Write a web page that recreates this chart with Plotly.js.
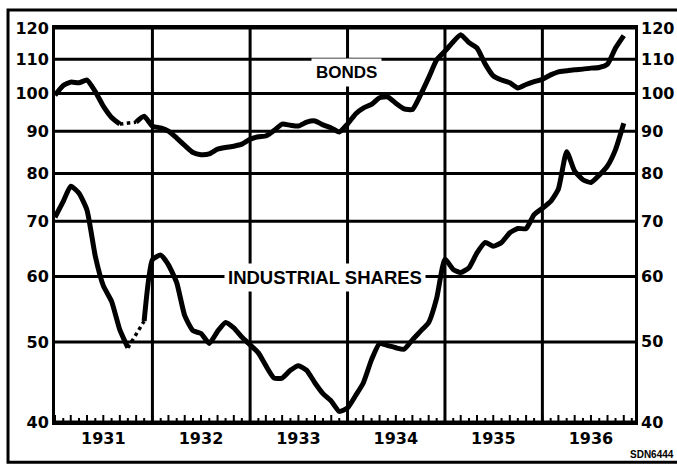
<!DOCTYPE html>
<html>
<head>
<meta charset="utf-8">
<script src="https://cdn.plot.ly/plotly-3.0.1.min.js"></script>
<style>
html,body{margin:0;padding:0;background:#fff;}
#chart{width:677px;height:468px;}
</style>
</head>
<body>
<div id="chart"></div>
<script>
// Monthly observations, Jan 1931 - Nov 1936
const months = [
 '1931-01','1931-02','1931-03','1931-04','1931-05','1931-06','1931-07','1931-08','1931-09','1931-10','1931-11','1931-12',
 '1932-01','1932-02','1932-03','1932-04','1932-05','1932-06','1932-07','1932-08','1932-09','1932-10','1932-11','1932-12',
 '1933-01','1933-02','1933-03','1933-04','1933-05','1933-06','1933-07','1933-08','1933-09','1933-10','1933-11','1933-12',
 '1934-01','1934-02','1934-03','1934-04','1934-05','1934-06','1934-07','1934-08','1934-09','1934-10','1934-11','1934-12',
 '1935-01','1935-02','1935-03','1935-04','1935-05','1935-06','1935-07','1935-08','1935-09','1935-10','1935-11','1935-12',
 '1936-01','1936-02','1936-03','1936-04','1936-05','1936-06','1936-07','1936-08','1936-09','1936-10','1936-11'
];
const bonds = [
 99.5,102.2,103.2,103.0,103.8,100.5,96.5,93.5,91.8,92.0,92.3,93.8,
 91.3,90.8,90.0,88.3,86.5,84.8,84.3,84.5,85.6,86.0,86.3,86.8,
 88.0,88.6,88.8,90.2,91.8,91.5,91.3,92.3,92.6,91.6,90.8,89.8,
 91.8,94.5,96.0,97.0,98.8,99.0,97.3,95.8,95.6,99.5,104.5,109.8,
 112.5,115.5,117.8,115.2,113.5,108.5,105.0,103.8,103.0,101.5,102.5,103.3,
 104.0,105.3,106.2,106.5,106.8,107.0,107.3,107.5,108.5,113.5,117.5
];
const shares = [
 70.8,74.0,77.2,75.7,72.2,63.5,58.5,56.0,51.7,49.2,51.0,53.0,
 62.9,63.7,62.0,59.0,53.8,51.6,51.2,49.8,51.5,52.8,52.0,50.7,
 49.6,48.5,46.8,45.2,45.2,46.2,46.8,46.2,44.6,43.3,42.4,41.2,
 41.6,43.1,44.6,47.6,49.8,49.5,49.2,49.0,50.3,51.5,52.8,56.5,
 63.0,61.2,60.7,61.5,64.1,66.0,65.3,66.0,67.8,68.6,68.6,71.3,
 72.6,74.0,76.6,85.0,80.5,78.6,78.0,79.6,81.7,85.5,92.0
];
// months where the published line is only dotted (first and last index of the gap)
const bondsGap = [8, 10];
const sharesGap = [9, 11];

const yTicks = [40, 50, 60, 70, 80, 90, 100, 110, 120];
const yTickText = ['40', '50', '60', '70', '80', '90', '100', '110', '120'];
const yearBounds = ['1932-01-01', '1933-01-01', '1934-01-01', '1935-01-01', '1936-01-01'];
const tickMonths = months.concat(['1936-12']);
const yearLabelMonth = {'1931-07': '1931', '1932-07': '1932', '1933-07': '1933', '1934-07': '1934', '1935-07': '1935', '1936-07': '1936'};

function solid(vals, gap) {
  return vals.map((v, i) => (i > gap[0] && i < gap[1]) ? null : v);
}
function dotted(vals, gap) {
  return vals.map((v, i) => (i >= gap[0] && i <= gap[1]) ? v : null);
}

const lineSolid = {color: '#000', width: 5, shape: 'spline', smoothing: 0.5};
const lineDot = {color: '#000', width: 3.5, dash: 'dot'};

const traces = [
  {x: months, y: solid(bonds, bondsGap), mode: 'lines', line: lineSolid, connectgaps: false, hoverinfo: 'skip', name: 'Bonds'},
  {x: months, y: dotted(bonds, bondsGap), mode: 'lines', line: lineDot, hoverinfo: 'skip', name: 'Bonds gap'},
  {x: months, y: solid(shares, sharesGap), mode: 'lines', line: lineSolid, connectgaps: false, hoverinfo: 'skip', name: 'Industrial shares'},
  {x: months, y: dotted(shares, sharesGap), mode: 'lines', line: lineDot, hoverinfo: 'skip', name: 'Shares gap'}
];

const xRange = ['1931-01-01', '1936-12-13'];
const yMin = Math.log10(40), yMax = Math.log10(120);
const yFrac = v => (Math.log10(v) - yMin) / (yMax - yMin);
const tickFont = {family: 'DejaVu Sans', size: 16, color: '#000', weight: 'bold'};
const plotHeightPx = 468 - 28 - 46;

// grid lines: year boundaries, value levels, monthly tick marks, outer frame
const shapes = yearBounds.map(d => ({type: 'line', xref: 'x', yref: 'paper', x0: d, x1: d, y0: 0, y1: 1,
  line: {color: '#000', width: 3}, layer: 'below'}));
yTicks.forEach(v => shapes.push({type: 'line', xref: 'x', yref: 'y', x0: xRange[0], x1: xRange[1], y0: v, y1: v,
  line: {color: '#000', width: 3}, layer: 'below'}));
tickMonths.forEach((m, i) => shapes.push({type: 'line', xref: 'x', yref: 'paper', x0: m, x1: m, y0: 0,
  y1: (i % 2 === 0 ? 7 : 4) / plotHeightPx, line: {color: '#000', width: 2}, layer: 'above'}));
shapes.push({type: 'rect', xref: 'paper', yref: 'paper', x0: -0.081, x1: 1.08, y0: -0.102, y1: 1.046,
  line: {color: '#000', width: 3}, fillcolor: 'rgba(0,0,0,0)', layer: 'above'});

// right-hand scale repeats the left one
const annotations = yTicks.map((v, i) => ({xref: 'paper', yref: 'paper', x: 1.007, xanchor: 'left',
  y: yFrac(v), yanchor: 'middle', text: yTickText[i], showarrow: false, font: tickFont}));
annotations.push(
  {xref: 'paper', yref: 'paper', x: 0.502, y: 0.924, text: 'BONDS', showarrow: false,
   font: {family: 'Liberation Sans', size: 17, color: '#000', weight: 'bold'}, bgcolor: '#fff', borderpad: 4},
  {xref: 'paper', yref: 'paper', x: 0.466, y: 0.368, text: 'INDUSTRIAL SHARES', showarrow: false,
   font: {family: 'Liberation Sans', size: 18.5, color: '#000', weight: 'bold'}, bgcolor: '#fff', borderpad: 3},
  {xref: 'paper', yref: 'paper', x: 1.07, y: -0.083, xanchor: 'right', yanchor: 'middle', text: 'SDN6444', showarrow: false,
   font: {family: 'Liberation Sans', size: 10, color: '#000', weight: 'bold'}}
);

const layout = {
  width: 677, height: 468,
  margin: {l: 55, r: 42, t: 28, b: 46},
  paper_bgcolor: '#fff', plot_bgcolor: 'rgba(0,0,0,0)',
  showlegend: false,
  xaxis: {
    type: 'date', range: xRange,
    tickmode: 'array', tickvals: tickMonths, ticktext: tickMonths.map(m => yearLabelMonth[m] || ''),
    ticks: '', tickfont: tickFont,
    showgrid: false,
    showline: true, linecolor: '#000', linewidth: 3, mirror: true, zeroline: false
  },
  yaxis: {
    type: 'log', range: [yMin, yMax],
    tickmode: 'array', tickvals: yTicks, ticktext: yTickText, ticks: '',
    showgrid: false,
    showline: true, linecolor: '#000', linewidth: 3, mirror: true, zeroline: false,
    tickfont: tickFont
  },
  annotations: annotations,
  shapes: shapes
};

Plotly.newPlot('chart', traces, layout, {displayModeBar: false});
</script>
</body>
</html>
